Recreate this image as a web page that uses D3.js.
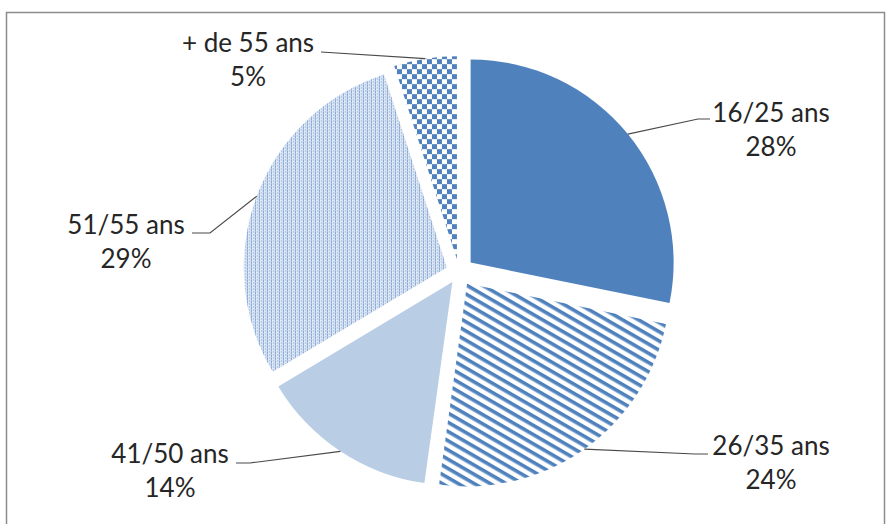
<!DOCTYPE html>
<html>
<head>
<meta charset="utf-8">
<script src="https://cdn.jsdelivr.net/npm/d3@7/dist/d3.min.js"></script>
<style>
  body { margin: 0; background: #fff; }
  svg text { font-family: Lato, "Open Sans", sans-serif; font-size: 26px; fill: #262626; }
</style>
</head>
<body>
<svg width="892" height="524"></svg>
<script>
// data
var categories = ['16/25 ans', '26/35 ans', '41/50 ans', '51/55 ans', '+ de 55 ans'];
var values = [28.2, 24.0, 14.2, 28.6, 5.0];
var fills = ['url(#solid)', 'url(#stripes)', 'url(#light)', 'url(#dots)', 'url(#checker)'];

// layout (label anchors, leader elbows, explosion)
var explode = [15, 14, 12, 13, 13];
var labelPos = [[771, 122], [771, 455], [170, 463], [126, 234], [248, 52]];
var leaderElbow = [[[698, 119], [710, 119]], [[695, 454], [708, 454]], [[250, 463], [236, 463]], [[210, 233], [192, 233]], [[321, 52], [321, 52]]];

var svg = d3.select('svg');
var cx = 459, cy = 272, radius = 203;
var blue = '#4f81bd';

//patterns
var defs = svg.append('defs');
defs.append('pattern').attr('id', 'solid').attr('width', 4).attr('height', 4)
    .attr('patternUnits', 'userSpaceOnUse')
    .append('rect').attr('width', 4).attr('height', 4).attr('fill', blue);

defs.append('pattern').attr('id', 'light').attr('width', 4).attr('height', 4)
    .attr('patternUnits', 'userSpaceOnUse')
    .append('rect').attr('width', 4).attr('height', 4).attr('fill', '#b9cde5');

var stripes = defs.append('pattern').attr('id', 'stripes').attr('width', 8).attr('height', 8)
    .attr('patternUnits', 'userSpaceOnUse')
    .attr('patternTransform', 'rotate(30)');
stripes.append('rect').attr('width', 8).attr('height', 8).attr('fill', '#fff');
stripes.append('rect').attr('width', 8).attr('height', 3.6).attr('fill', blue);

var checker = defs.append('pattern').attr('id', 'checker').attr('width', 10).attr('height', 10)
    .attr('patternUnits', 'userSpaceOnUse');
checker.append('rect').attr('width', 10).attr('height', 10).attr('fill', '#fff');
checker.append('rect').attr('width', 5).attr('height', 5).attr('fill', blue);
checker.append('rect').attr('x', 5).attr('y', 5).attr('width', 5).attr('height', 5).attr('fill', blue);

var dots = defs.append('pattern').attr('id', 'dots').attr('width', 4).attr('height', 3)
    .attr('patternUnits', 'userSpaceOnUse');
dots.append('rect').attr('width', 4).attr('height', 3).attr('fill', '#e2eaf5');
dots.append('rect').attr('x', 0).attr('y', 0).attr('width', 1).attr('height', 3).attr('fill', '#9db8dc');
dots.append('rect').attr('x', 0).attr('y', 1).attr('width', 1).attr('height', 1).attr('fill', '#5a88c4');
dots.append('rect').attr('x', 2).attr('y', 0).attr('width', 1).attr('height', 1).attr('fill', '#7ea0d0');

//frame
svg.append('rect')
    .attr('x', 6.5).attr('y', 12.5)
    .attr('width', 878).attr('height', 530)
    .attr('fill', 'none')
    .attr('stroke', '#8c8c8c')
    .attr('stroke-width', 1.5);

var pie = d3.pie().sort(null).value(d => d)(values);
var arc = d3.arc().innerRadius(0).outerRadius(radius);

function offset(d, r) {
    var mid = (d.startAngle + d.endAngle) / 2;
    return [Math.sin(mid) * r, -Math.cos(mid) * r];
}

var g = svg.append('g').attr('transform', 'translate(' + [cx, cy] + ')');

g.selectAll('.slice')
    .data(pie)
    .enter()
    .append('path')
    .attr('class', 'slice')
    .attr('transform', (d, i) => 'translate(' + offset(d, explode[i]) + ')')
    .attr('d', arc)
    .attr('fill', (d, i) => fills[i]);

//leader lines
pie.forEach(function (d, i) {
    var o = offset(d, explode[i]);
    var p = offset(d, radius);
    var pts = [[cx + o[0] + p[0], cy + o[1] + p[1]]].concat(leaderElbow[i]);
    svg.append('path')
        .attr('d', d3.line()(pts))
        .attr('fill', 'none')
        .attr('stroke', '#4a4a4a')
        .attr('stroke-width', 1.2);
});

//labels
var total = d3.sum(values);
pie.forEach(function (d, i) {
    var t = svg.append('text')
        .attr('text-anchor', 'middle')
        .attr('transform', 'translate(' + labelPos[i] + ')');
    t.append('tspan').attr('x', 0).attr('y', 0).text(categories[i]);
    t.append('tspan').attr('x', 0).attr('y', 34).text(Math.round(values[i] / total * 100) + '%');
});
</script>
</body>
</html>
